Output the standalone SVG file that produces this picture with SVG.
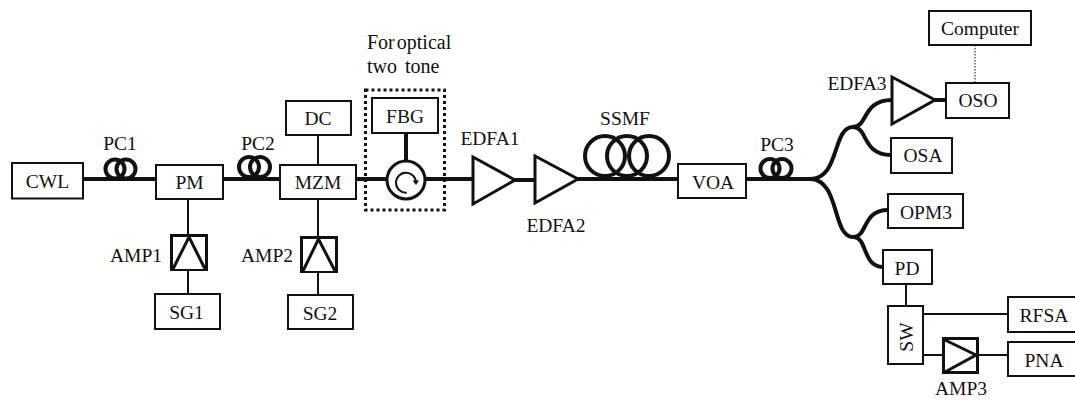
<svg xmlns="http://www.w3.org/2000/svg" width="1075" height="400" viewBox="0 0 1075 400">
<style>
text{font-family:"Liberation Serif","Times New Roman",serif;font-size:19.5px;fill:#111;text-anchor:middle}
.l{text-anchor:start;font-size:20px}
.b{fill:#fff;stroke:#111;stroke-width:2}
.t{fill:#fff;stroke:#111;stroke-width:3;stroke-linejoin:miter}
.f{fill:none;stroke:#111;stroke-width:4}
.c{fill:none;stroke:#111;stroke-width:4}
.e{fill:none;stroke:#111;stroke-width:2}
.a{fill:#fff;stroke:#111;stroke-width:3}
</style>
<rect width="1075" height="400" fill="#fff"/>
<g id="connectors">
<path class="f" d="M83 179H156M223 179H280M356 179H473M515 180H535M578 179H678M746 179H810"/>
<path class="f" d="M810 179C840 179 832 127 853 127C868 127 862 100 892 100"/>
<path class="f" d="M853 127C868 127 862 155 891 155"/>
<path class="f" d="M810 179C840 179 832 237 853 237C868 237 862 210 888 210"/>
<path class="f" d="M853 237C868 237 862 267 883 267"/>
<path class="f" d="M935 100H946"/>
<path class="f" d="M406 133V162"/>
<path class="e" d="M188 199V235M188 270V294M318 135V165M318 199V237M318 272V295M906 284V306M923 314H1008M923 355H943M978 355H1008"/>
<path fill="none" stroke="#111" stroke-width="1" stroke-dasharray="1.500 1.500" d="M975 45V83"/>
</g>
<g id="PC1"><circle class="c" cx="115" cy="169" r="9.500"/><circle class="c" cx="126" cy="169" r="9.500"/><text x="120" y="150">PC1</text></g>
<g id="PC2"><circle class="c" cx="249" cy="167" r="10"/><circle class="c" cx="260" cy="167" r="10"/><text x="258" y="150">PC2</text></g>
<g id="PC3"><circle class="c" cx="770" cy="168.500" r="9.500"/><circle class="c" cx="782" cy="168.500" r="9.500"/><text x="777" y="151">PC3</text></g>
<g id="SSMF"><circle class="c" cx="605" cy="156" r="20"/><circle class="c" cx="627" cy="156" r="20"/><circle class="c" cx="649" cy="156" r="20"/><text x="625" y="125">SSMF</text></g>
<g id="CWL"><rect class="b" x="12" y="163" width="71" height="35.500"/><text x="47.500" y="188">CWL</text></g>
<g id="PM"><rect class="b" x="156" y="165" width="67" height="34"/><text x="189.500" y="189">PM</text></g>
<g id="MZM"><rect class="b" x="280" y="165" width="76" height="34"/><text x="318" y="189">MZM</text></g>
<g id="DC"><rect class="b" x="286" y="101" width="65" height="34"/><text x="318" y="125">DC</text></g>
<g id="AMP1"><rect class="a" x="171.500" y="235.500" width="35" height="34"/><path class="a" d="M173 269L189 237L205 269" fill="none"/><text x="136" y="262">AMP1</text></g>
<g id="AMP2"><rect class="a" x="301.500" y="237.500" width="35" height="34"/><path class="a" d="M303 271L318.500 239L335 271" fill="none"/><text x="267" y="262">AMP2</text></g>
<g id="SG1"><rect class="b" x="155" y="294" width="65" height="35"/><text x="186.500" y="319">SG1</text></g>
<g id="SG2"><rect class="b" x="288" y="295" width="65" height="34"/><text x="320" y="320">SG2</text></g>
<g id="optical-two-tone"><rect x="365.500" y="90" width="79" height="120" fill="none" stroke="#111" stroke-width="3" stroke-dasharray="3 3"/><text class="l" x="367" y="49" word-spacing="-3">For optical</text><text class="l" x="367" y="73" word-spacing="3">two tone</text></g>
<g id="FBG"><rect class="b" x="372" y="98" width="66" height="35"/><text x="405" y="123">FBG</text></g>
<g id="circulator"><circle cx="406" cy="180" r="19" fill="#fff" stroke="#111" stroke-width="3"/><path fill="none" stroke="#111" stroke-width="2" d="M406.700 192.700A10 10 0 1 1 416 182"/><path d="M412.500 180.500L419 180.500L416 185z" fill="#111"/></g>
<g id="EDFA1"><path class="t" d="M473 157L515 180L473 204Z"/><text x="490" y="145">EDFA1</text></g>
<g id="EDFA2"><path class="t" d="M535 156L578 179L535 203Z"/><text x="556" y="232">EDFA2</text></g>
<g id="VOA"><rect class="b" x="678" y="164" width="68" height="34"/><text x="713" y="189">VOA</text></g>
<g id="Computer"><rect class="b" x="929" y="11" width="102" height="34"/><text x="980" y="35">Computer</text></g>
<g id="OSO"><rect class="b" x="946" y="83" width="63" height="35"/><text x="978" y="107">OSO</text></g>
<g id="EDFA3"><path class="t" d="M892 77L935 100L892 124Z"/><text x="857" y="90">EDFA3</text></g>
<g id="OSA"><rect class="b" x="891" y="138" width="61" height="35"/><text x="923" y="162">OSA</text></g>
<g id="OPM3"><rect class="b" x="888" y="194" width="75" height="34"/><text x="926" y="219">OPM3</text></g>
<g id="PD"><rect class="b" x="883" y="250" width="49" height="34"/><text x="907" y="275">PD</text></g>
<g id="SW"><rect class="b" x="888" y="306" width="35" height="58"/><text transform="translate(913 337) rotate(-90)">SW</text></g>
<g id="RFSA"><rect class="b" x="1008" y="297" width="70" height="35"/><text x="1044" y="322">RFSA</text></g>
<g id="PNA"><rect class="b" x="1008" y="342" width="70" height="34"/><text x="1044" y="367">PNA</text></g>
<g id="AMP3"><rect class="a" x="943.500" y="338.500" width="34" height="34"/><path class="a" d="M945 340L976 355L945 372" fill="none"/><text x="961" y="395">AMP3</text></g>
</svg>
